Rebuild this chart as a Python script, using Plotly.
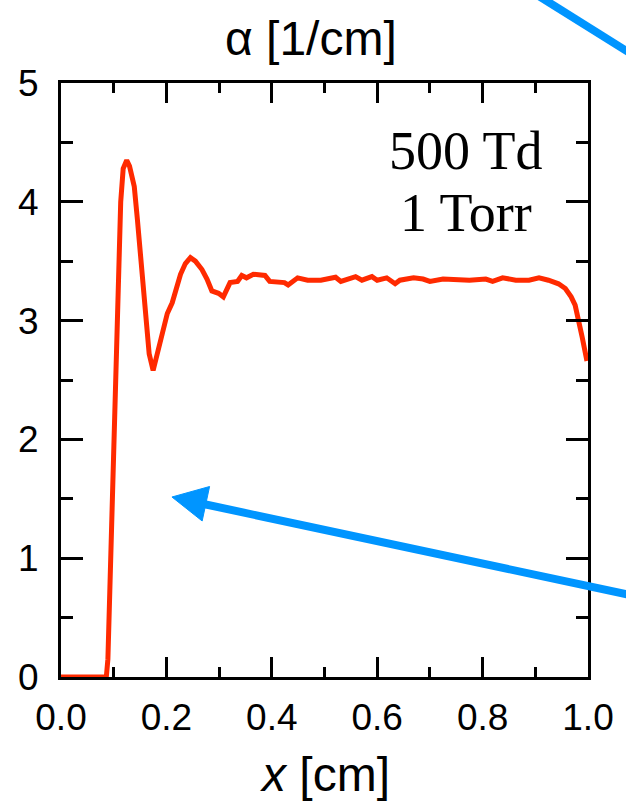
import plotly.graph_objects as go

# Ionization coefficient profile along the gap
x_cm = [0.0, 0.086, 0.089, 0.094, 0.0996, 0.1034, 0.109, 0.1133, 0.118, 0.1247,
        0.130, 0.135, 0.139, 0.145, 0.1516, 0.160, 0.1673, 0.1748, 0.183, 0.192,
        0.2017, 0.211, 0.2205, 0.2268, 0.236, 0.2456, 0.255, 0.2675, 0.277, 0.2863,
        0.2989, 0.308, 0.3208, 0.335, 0.343, 0.352, 0.365, 0.387, 0.396, 0.412,
        0.424, 0.431, 0.449, 0.468, 0.493, 0.521, 0.531, 0.559, 0.571, 0.590,
        0.600, 0.618, 0.634, 0.643, 0.669, 0.687, 0.700, 0.725, 0.750, 0.775,
        0.806, 0.819, 0.838, 0.863, 0.888, 0.907, 0.925, 0.944, 0.957, 0.968,
        0.9756, 0.983, 0.989, 0.998]
alpha = [0.0, 0.0, 0.15, 0.93, 1.77, 2.16, 3.0, 4.0, 4.28, 4.35,
         4.30, 4.20, 4.13, 3.85, 3.48, 3.0, 2.72, 2.58, 2.72, 2.89,
         3.06, 3.15, 3.31, 3.39, 3.48, 3.53, 3.50, 3.43, 3.35, 3.25,
         3.23, 3.20, 3.32, 3.33, 3.38, 3.36, 3.39, 3.38, 3.33, 3.33,
         3.32, 3.30, 3.36, 3.34, 3.34, 3.365, 3.33, 3.37, 3.34, 3.37,
         3.34, 3.36, 3.31, 3.34, 3.36, 3.35, 3.33, 3.35, 3.34, 3.34,
         3.35, 3.33, 3.36, 3.34, 3.34, 3.36, 3.34, 3.31, 3.27, 3.20,
         3.13, 3.0, 2.86, 2.66]

x_ticks = [0.0, 0.2, 0.4, 0.6, 0.8, 1.0]
x_tick_text = ["0.0", "0.2", "0.4", "0.6", "0.8", "1.0"]
y_ticks = [0, 1, 2, 3, 4, 5]

W, H = 626, 803
ML, MR, MT, MB = 61, 33, 83, 126
PW, PH = W - ML - MR, H - MT - MB


def px(xp):
    return (xp - ML) / PW


def py(yp):
    return (H - MB - yp) / PH


fig = go.Figure()
fig.add_trace(go.Scatter(x=x_cm, y=alpha, mode="lines",
                         line=dict(color="#ff2a00", width=5),
                         showlegend=False, hoverinfo="skip"))

sans = "Liberation Sans, Arial, sans-serif"
axis_common = dict(showline=True, linecolor="black", linewidth=3, mirror="allticks",
                   ticks="inside", tickwidth=3, tickcolor="black", showgrid=False,
                   zeroline=False, tickfont=dict(family=sans, size=37, color="black"))

fig.update_xaxes(range=[0, 1], tickvals=x_ticks, ticktext=x_tick_text, ticklen=20,
                 ticklabelstandoff=6,
                 minor=dict(dtick=0.1, ticks="inside", ticklen=10, tickwidth=3,
                            tickcolor="black", showgrid=False),
                 **axis_common)
fig.update_yaxes(range=[0, 5], tickvals=y_ticks, ticklen=22, ticklabelstandoff=12,
                 minor=dict(dtick=0.5, ticks="inside", ticklen=12, tickwidth=3,
                            tickcolor="black", showgrid=False),
                 **axis_common)

blue = "#0095ff"
# pointer arrow: shaft plus triangular head
tip = (173, 497)
fig.add_shape(type="line", xref="paper", yref="paper",
              x0=px(640), y0=py(596), x1=px(200), y1=py(503),
              line=dict(color=blue, width=8))
fig.add_shape(type="path", xref="paper", yref="paper",
              path=f"M {px(tip[0])} {py(tip[1])} L {px(211)} {py(486.5)} "
                   f"L {px(203.5)} {py(521)} Z",
              fillcolor=blue, line=dict(color=blue, width=1))
# second pointer entering from the top right
fig.add_shape(type="line", xref="paper", yref="paper",
              x0=px(540), y0=py(-6), x1=px(640), y1=py(56),
              line=dict(color=blue, width=8))

fig.add_annotation(text="α [1/cm]", xref="paper", yref="paper",
                   x=px(313), y=py(38), xanchor="center", yanchor="middle",
                   showarrow=False, font=dict(family=sans, size=48, color="black"))
fig.add_annotation(text="<i>x</i> [cm]", xref="paper", yref="paper",
                   x=px(327), y=py(774), xanchor="center", yanchor="middle",
                   showarrow=False, font=dict(family=sans, size=48, color="black"))

serif = "Liberation Serif, Times New Roman, serif"
fig.add_annotation(text="500 Td", xref="paper", yref="paper",
                   x=px(470), y=py(151), xanchor="center", yanchor="middle",
                   showarrow=False, font=dict(family=serif, size=54, color="black"))
fig.add_annotation(text="1 Torr", xref="paper", yref="paper",
                   x=px(470), y=py(213), xanchor="center", yanchor="middle",
                   showarrow=False, font=dict(family=serif, size=54, color="black"))

fig.update_layout(width=W, height=H, margin=dict(l=ML, r=MR, t=MT, b=MB),
                  paper_bgcolor="white", plot_bgcolor="white")

fig.write_html("out.html")
